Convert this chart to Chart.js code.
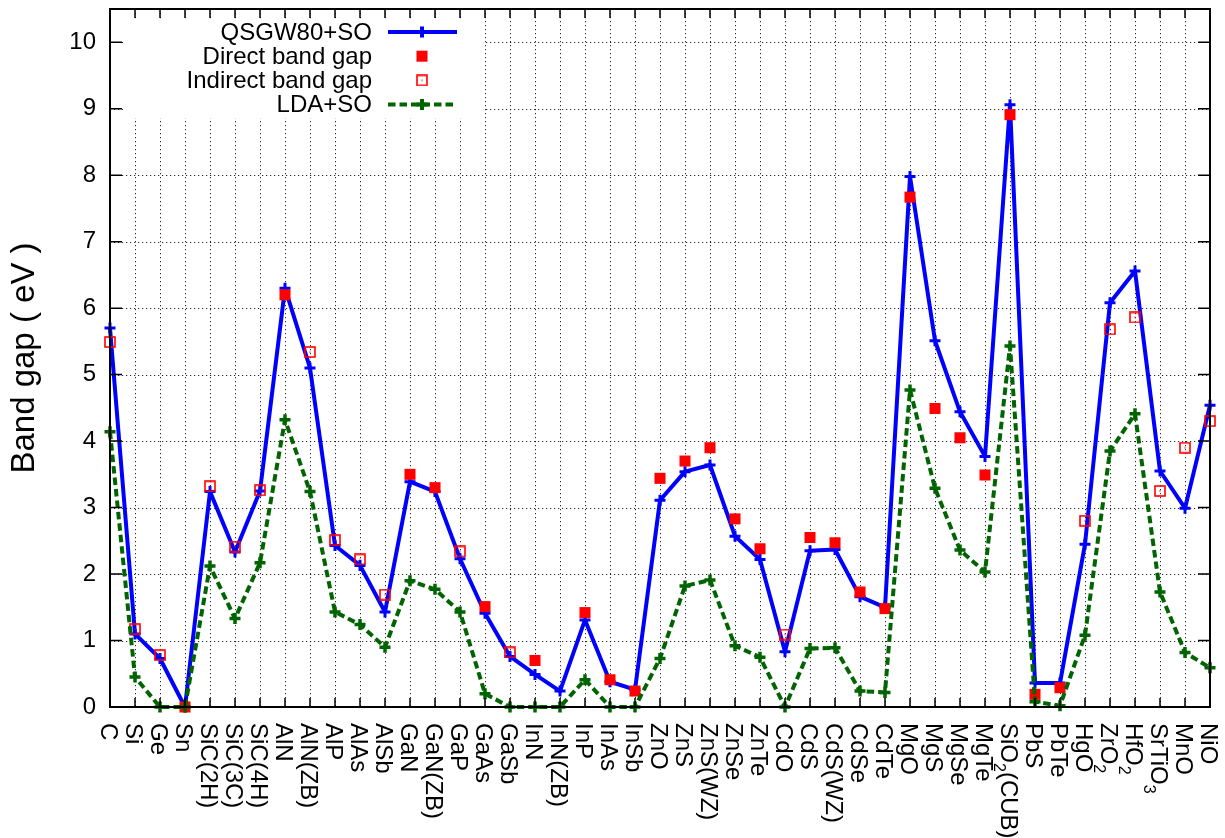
<!DOCTYPE html>
<html>
<head>
<meta charset="utf-8">
<script src="https://cdn.jsdelivr.net/npm/chart.js@4.4.0/dist/chart.umd.min.js"></script>
<style>
html,body{margin:0;padding:0;background:#fff;}
#wrap{width:1225px;height:838px;}
</style>
</head>
<body>
<div id="wrap"><canvas id="c" width="1225" height="838"></canvas></div>
<script>
// ---- data ----
const categories = ['C','Si','Ge','Sn','SiC(2H)','SiC(3C)','SiC(4H)','AlN','AlN(ZB)','AlP','AlAs','AlSb',
  'GaN','GaN(ZB)','GaP','GaAs','GaSb','InN','InN(ZB)','InP','InAs','InSb','ZnO','ZnS','ZnS(WZ)','ZnSe','ZnTe',
  'CdO','CdS','CdS(WZ)','CdSe','CdTe','MgO','MgS','MgSe','MgTe','SiO₂(CUB)','PbS','PbTe','HgO','ZrO₂','HfO₂',
  'SrTiO₃','MnO','NiO'];

const qsgwSO = [5.70,1.10,0.73,0.00,3.24,2.33,3.25,6.30,5.10,2.43,2.13,1.43,3.39,3.24,2.23,1.41,0.76,0.49,0.24,
  1.31,0.38,0.26,3.11,3.54,3.64,2.57,2.22,0.83,2.35,2.37,1.66,1.50,7.98,5.51,4.44,3.77,9.06,0.36,0.36,2.45,
  6.08,6.56,3.55,2.99,4.54];

const directGap = [null,null,null,0.00,null,null,null,6.20,null,null,null,null,3.50,3.30,null,1.51,null,0.70,null,
  1.42,0.41,0.24,3.44,3.70,3.90,2.83,2.38,null,2.55,2.47,1.73,1.48,7.67,4.49,4.05,3.49,8.91,0.19,0.29,null,
  null,null,null,null,null];

const indirectGap = [5.49,1.17,0.78,null,3.32,2.41,3.26,null,5.34,2.51,2.22,1.69,null,null,2.34,null,0.82,null,null,
  null,null,null,null,null,null,null,null,1.09,null,null,null,null,null,null,null,null,null,null,null,2.80,
  5.68,5.86,3.25,3.90,4.30];

const ldaSO = [4.14,0.45,0.00,0.00,2.12,1.33,2.17,4.32,3.24,1.43,1.24,0.90,1.90,1.77,1.43,0.20,0.00,0.00,0.00,
  0.41,0.00,0.00,0.73,1.82,1.91,0.92,0.75,0.00,0.88,0.89,0.24,0.22,4.77,3.29,2.36,2.03,5.43,0.08,0.02,1.08,
  3.85,4.41,1.73,0.82,0.59];

const yTicks = [0,1,2,3,4,5,6,7,8,9,10];
const yMax = 10.5;
// ---------------------------------------

const FONT = '"Liberation Sans", Arial, Helvetica, sans-serif';
Chart.defaults.font.family = FONT;
Chart.defaults.color = '#000';

// open square with a centre dot (gnuplot point type 4)
const openSq = document.createElement('canvas');
openSq.width = 12; openSq.height = 12;
(function(){
  const g = openSq.getContext('2d');
  g.strokeStyle = '#ff0000'; g.lineWidth = 1.6;
  g.strokeRect(1, 1, 10, 10);
  g.fillStyle = '#ff0000';
  g.fillRect(5.4, 5.4, 1.2, 1.2);
})();

const noPad = s => { s.paddingTop = 0; s.paddingBottom = 0; s.paddingLeft = 0; s.paddingRight = 0; };

const decor = {
  id: 'decor',
  beforeDatasetsDraw(chart) {
    const ctx = chart.ctx, a = chart.chartArea;
    const xs = chart.scales.x, ys = chart.scales.y;
    ctx.save();
    ctx.strokeStyle = 'rgba(0,0,0,0.85)';
    ctx.lineWidth = 1;
    ctx.setLineDash([1.2, 2.8]);
    ctx.beginPath();
    for (let i = 1; i < categories.length - 1; i++) {
      const x = Math.round(xs.getPixelForValue(i)) + 0.5;
      ctx.moveTo(x, a.top); ctx.lineTo(x, a.bottom);
    }
    yTicks.forEach(v => {
      if (v === 0) return;
      const y = Math.round(ys.getPixelForValue(v)) + 0.5;
      ctx.moveTo(a.left, y); ctx.lineTo(a.right, y);
    });
    ctx.stroke();
    ctx.setLineDash([]);
    // legend box background (hides grid behind the key)
    ctx.fillStyle = '#fff';
    ctx.fillRect(a.left + 13, a.top + 10, 360, 99);
    ctx.restore();
  },
  afterDatasetsDraw(chart) {
    const ctx = chart.ctx, a = chart.chartArea;
    const xs = chart.scales.x, ys = chart.scales.y;
    ctx.save();
    // border
    ctx.strokeStyle = '#000';
    ctx.lineWidth = 2;
    ctx.strokeRect(a.left, a.top, a.right - a.left, a.bottom - a.top);
    // tick marks (inward, mirrored)
    ctx.lineWidth = 1.5;
    ctx.beginPath();
    for (let i = 0; i < categories.length; i++) {
      const x = xs.getPixelForValue(i);
      ctx.moveTo(x, a.bottom); ctx.lineTo(x, a.bottom - 9);
      ctx.moveTo(x, a.top); ctx.lineTo(x, a.top + 9);
    }
    yTicks.forEach(v => {
      const y = ys.getPixelForValue(v);
      ctx.moveTo(a.left, y); ctx.lineTo(a.left + 12, y);
      ctx.moveTo(a.right, y); ctx.lineTo(a.right - 12, y);
    });
    ctx.stroke();

    // x labels, rotated clockwise, with subscripts
    const subMap = {'₂':'2','₃':'3'};
    ctx.fillStyle = '#000';
    ctx.textBaseline = 'alphabetic';
    ctx.textAlign = 'left';
    categories.forEach((lab, i) => {
      const x = xs.getPixelForValue(i);
      ctx.save();
      ctx.translate(x, a.bottom + 16);
      ctx.rotate(Math.PI / 2);
      let pos = 0;
      let buf = '';
      const flush = () => {
        if (!buf) return;
        ctx.font = '24px ' + FONT;
        ctx.fillText(buf, pos, 8.6);
        pos += ctx.measureText(buf).width;
        buf = '';
      };
      for (const ch of lab) {
        if (subMap[ch]) {
          flush();
          ctx.font = '16px ' + FONT;
          ctx.fillText(subMap[ch], pos, 15.6);
          pos += ctx.measureText(subMap[ch]).width;
        } else buf += ch;
      }
      flush();
      ctx.restore();
    });

    // legend (key)
    const rowY0 = 32, dy = 24.2, textRight = 372, lx0 = 388, lx1 = 457, mx = 422;
    ctx.font = '24px ' + FONT;
    ctx.textAlign = 'right';
    ctx.textBaseline = 'middle';
    chart.data.datasets.forEach((ds, k) => {
      const y = rowY0 + k * dy;
      ctx.fillStyle = '#000';
      ctx.fillText(ds.label, textRight, y + 1);
      if (ds.showLine !== false) {
        ctx.strokeStyle = ds.borderColor;
        ctx.lineWidth = ds.borderWidth;
        ctx.setLineDash(ds.borderDash || []);
        ctx.beginPath(); ctx.moveTo(lx0, y); ctx.lineTo(lx1, y); ctx.stroke();
        ctx.setLineDash([]);
      }
      ctx.strokeStyle = ds.pointBorderColor;
      ctx.fillStyle = ds.pointBackgroundColor;
      Chart.helpers.drawPoint(ctx, {
        pointStyle: ds.pointStyle, radius: ds.pointRadius,
        borderWidth: ds.pointBorderWidth, rotation: 0
      }, mx, y);
    });
    ctx.restore();
  }
};

new Chart(document.getElementById('c'), {
  type: 'line',
  data: {
    labels: categories,
    datasets: [
      {
        label: 'QSGW80+SO', data: qsgwSO, order: 4,
        borderColor: '#0000ff', borderWidth: 4, tension: 0, borderJoinStyle: 'round',
        pointStyle: 'cross', pointRadius: 5.5, pointBorderWidth: 3,
        pointBorderColor: '#0000ff', pointBackgroundColor: '#0000ff',
        clip: false
      },
      {
        label: 'Direct band gap', data: directGap, order: 3, showLine: false,
        borderColor: '#ff0000', borderWidth: 0,
        pointStyle: 'rect', pointRadius: 7.8, pointBorderWidth: 0,
        pointBorderColor: '#ff0000', pointBackgroundColor: '#ff0000',
        clip: false
      },
      {
        label: 'Indirect band gap', data: indirectGap, order: 2, showLine: false,
        borderColor: '#ff0000', borderWidth: 0,
        pointStyle: openSq, pointRadius: 6, pointBorderWidth: 0,
        pointBorderColor: '#ff0000', pointBackgroundColor: 'rgba(0,0,0,0)',
        clip: false
      },
      {
        label: 'LDA+SO', data: ldaSO, order: 1,
        borderColor: '#006400', borderWidth: 4, borderDash: [7.5, 4], tension: 0, borderJoinStyle: 'round',
        pointStyle: 'cross', pointRadius: 5.5, pointBorderWidth: 3.5,
        pointBorderColor: '#006400', pointBackgroundColor: '#006400',
        clip: false
      }
    ]
  },
  options: {
    responsive: false,
    devicePixelRatio: 1,
    animation: false,
    events: [],
    layout: { padding: { top: 9, right: 15, left: 0, bottom: 0 } },
    plugins: { legend: { display: false }, tooltip: { enabled: false } },
    scales: {
      x: {
        type: 'category', offset: false,
        grid: { display: false, drawTicks: false }, border: { display: false },
        ticks: { display: false },
        afterFit: s => { s.height = 131; noPad(s); }
      },
      y: {
        min: 0, max: yMax,
        grid: { display: false, drawTicks: false }, border: { display: false },
        afterBuildTicks: s => { s.ticks = yTicks.map(v => ({ value: v })); },
        ticks: { padding: 14, font: { size: 24 }, color: '#000' },
        title: {
          display: true, text: 'Band gap ( eV )', color: '#000',
          font: { size: 33, lineHeight: 1 }, padding: { top: 8.5, bottom: 0 }
        },
        afterFit: s => { s.width = 110; noPad(s); }
      }
    }
  },
  plugins: [decor]
});
</script>
</body>
</html>
